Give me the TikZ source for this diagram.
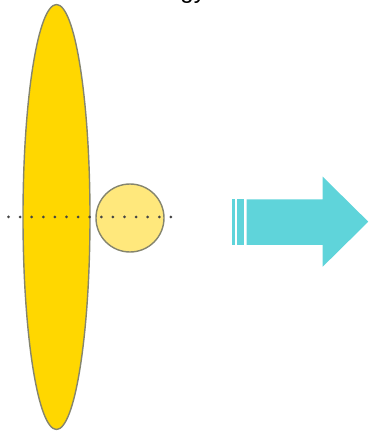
\documentclass[tikz,border=0pt]{standalone}
\usepackage{fontspec}
\setmainfont{Liberation Sans}
\usetikzlibrary{shapes.geometric}
\definecolor{gold}{HTML}{FFD700}
\definecolor{lightgold}{HTML}{FFE87C}
\definecolor{edgegray}{HTML}{85856E}
\definecolor{arrowcyan}{HTML}{5FD4DA}
\definecolor{dotgray}{HTML}{444444}
\tikzset{
  body/.style={fill=gold, draw=edgegray, line width=1.4pt},
  ball/.style={fill=lightgold, draw=edgegray, line width=1.4pt},
  axisline/.style={draw=dotgray, line width=3pt, line cap=round, dash pattern=on 0pt off 11.6pt},
  flow/.style={fill=arrowcyan, draw=none}
}
\begin{document}
\begin{tikzpicture}[x=1pt,y=1pt]
\useasboundingbox (0,0) rectangle (368,432);
\clip (0,0) rectangle (368,432);
% clipped title
\node[anchor=base east, font=\fontsize{24}{28}\selectfont, inner sep=0pt] (title) at (206,433) {Energy};
% big ellipse
\node[body, ellipse, minimum width=67, minimum height=425, inner sep=0pt] (lens) at (56.5,215) {};
% ball
\node[ball, circle, minimum size=68, inner sep=0pt] (ball) at (130,214) {};
% dotted axis
\coordinate (axL) at (8.5,215);
\coordinate (axR) at (171,215);
\draw[axisline] (axL) -- (axR);
% arrow
\fill[flow] (246.7,187) -- (322.7,187) -- (322.7,165.3) -- (368.3,210.3) -- (322.7,255.3) -- (322.7,232.7) -- (246.7,232.7) -- cycle;
\fill[flow] (237.4,187) rectangle (244,232.7);
\fill[flow] (232.3,187) rectangle (235.3,232.7);
\end{tikzpicture}
\end{document}
